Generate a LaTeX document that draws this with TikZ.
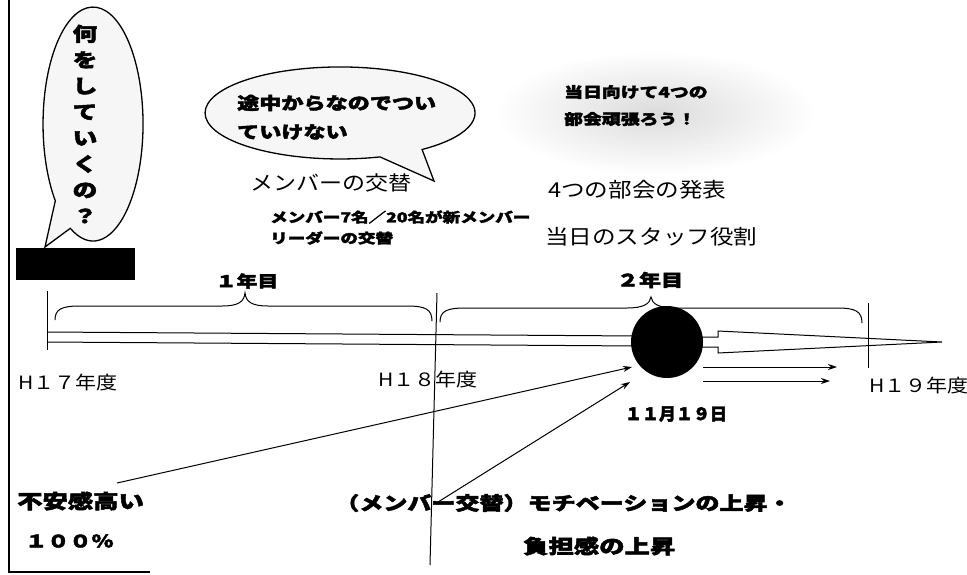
\documentclass[tikz,border=0pt]{standalone}
\usepackage{fontspec}
\newfontfamily\jp[FakeStretch=1.15]{Noto Sans CJK JP}
\newfontfamily\jpb[FakeStretch=1.3, BoldFeatures={FakeBold=2.5}]{Noto Sans CJK JP}
\newfontfamily\jpn[BoldFeatures={FakeBold=2.5}]{Noto Sans CJK JP}
\usetikzlibrary{arrows.meta}
\tikzset{
  regt/.style={font={\jp\fontsize{#1}{#1}\selectfont}, inner sep=0pt},
  bldt/.style={font={\jpb\bfseries\fontsize{#1}{#1}\selectfont}, inner sep=0pt},
  bubble/.style={draw=black, line width=1.3pt, fill=gray!7},
  ln/.style={line width=1pt},
  arr/.style={line width=1pt, -{Stealth[length=9pt,width=6pt]}},
}
\begin{document}
\begin{tikzpicture}[x=1pt,y=-1pt]
\useasboundingbox (0,0) rectangle (967,574);
\fill[white] (0,0) rectangle (967,574);
% frame
\draw[line width=1.6pt] (9,0) -- (9,572) -- (150,572);

% bubble 1 (vertical)
\draw[bubble] (55.3,200.8) arc[start angle=139, end angle=477, x radius=50, y radius=117] -- (45,247) -- cycle;
\node[bldt=19, align=center, font={\jpb\bfseries\fontsize{19}{26}\selectfont}] (q) at (85,124) {何\\を\\し\\て\\い\\く\\の\\？};
\node[fill=black, minimum width=119pt, minimum height=32pt, inner sep=0pt] (blk) at (75.5,264) {};

% bubble 2
\draw[bubble] (380,156.9) arc[start angle=72.8, end angle=412.6, x radius=135, y radius=46] -- (434,181) -- cycle;
\node[bldt=17, anchor=west] (b2a) at (237,103) {途中からなのでつい};
\node[bldt=17, anchor=west] (b2b) at (237,132) {ていけない};

% bubble 3 (fuzzy)
\shade[inner color=gray!28, outer color=white] (655,113) ellipse [x radius=160, y radius=62];
\node[bldt=14.5, anchor=west] (b3a) at (564,92) {当日向けて4つの};
\node[bldt=14.5, anchor=west] (b3b) at (564,119) {部会頑張ろう！};

% middle texts
\node[regt=20, anchor=west] (mc) at (250,183) {メンバーの交替};
\node[bldt=13.5, anchor=west] (mc1) at (270,217) {メンバー7名／20名が新メンバー};
\node[bldt=13.5, anchor=west] (mc2) at (270,238) {リーダーの交替};
\node[regt=20.5, anchor=west] (p1) at (548,190) {4つの部会の発表};
\node[regt=20.5, anchor=west] (p2) at (545,237) {当日のスタッフ役割};

% braces
\draw[ln] (55,320) .. controls (55,309) and (62,306) .. (80,306) -- (222,306) .. controls (238,306) and (244,302) .. (245,293) .. controls (246,302) and (252,306) .. (268,306) -- (407,306) .. controls (425,306) and (432,309) .. (432,321);
\draw[ln] (440,322) .. controls (440,311) and (447,308) .. (465,308) -- (627,308) .. controls (643,308) and (650,304) .. (651,297) .. controls (652,304) and (659,308) .. (675,308) -- (837,308) .. controls (855,308) and (862,311) .. (862,323);
\node[bldt=16] (y1) at (247,281) {１年目};
\node[bldt=17] (y2) at (650,280) {２年目};

% timeline band
\draw[ln] (47,332) -- (640,336);
\draw[ln] (47,342) -- (640,346);
\draw[ln] (700,337) -- (718,337) -- (718,331) -- (942,342) -- (718,353) -- (718,347) -- (700,347);
\node[circle, fill=black, minimum size=72pt, inner sep=0pt] (ev) at (667,342) {};

% year ticks
\draw[ln] (47,291) -- (47,350);
\draw[ln] (437,293) -- (430,565);
\draw[ln] (868,303) -- (868,368);
\node[regt=18.3, anchor=west] (h17) at (18,383) {H１７年度};
\node[regt=18.3, anchor=west] (h18) at (378,380) {H１８年度};
\node[regt=18.3, anchor=west] (h19) at (869,386) {H１９年度};
\node[font={\jpn\bfseries\fontsize{17}{17}\selectfont}, inner sep=0pt] (d) at (676,414) {１１月１９日};

% bottom texts
\node[bldt=19.5, anchor=west] (anx) at (17,501) {不安感高い};
\node[bldt=17, anchor=west] (pct) at (25,541) {１００％};
\node[bldt=18.5, anchor=west] (mot) at (335,503) {（メンバー交替）モチベーションの上昇・};
\node[bldt=19.5, anchor=west] (bur) at (523,546) {負担感の上昇};

% arrows
\coordinate (a1s) at (117,483);
\coordinate (a1e) at (632,367);
\coordinate (a2s) at (438,502);
\coordinate (a2e) at (630,382);
\coordinate (r1s) at (703,367);
\coordinate (r1e) at (837,367);
\coordinate (r2s) at (703,381);
\coordinate (r2e) at (830,381);
\draw[arr] (a1s) -- (a1e);
\draw[arr] (a2s) -- (a2e);
\draw[arr] (r1s) -- (r1e);
\draw[arr] (r2s) -- (r2e);
\end{tikzpicture}
\end{document}
